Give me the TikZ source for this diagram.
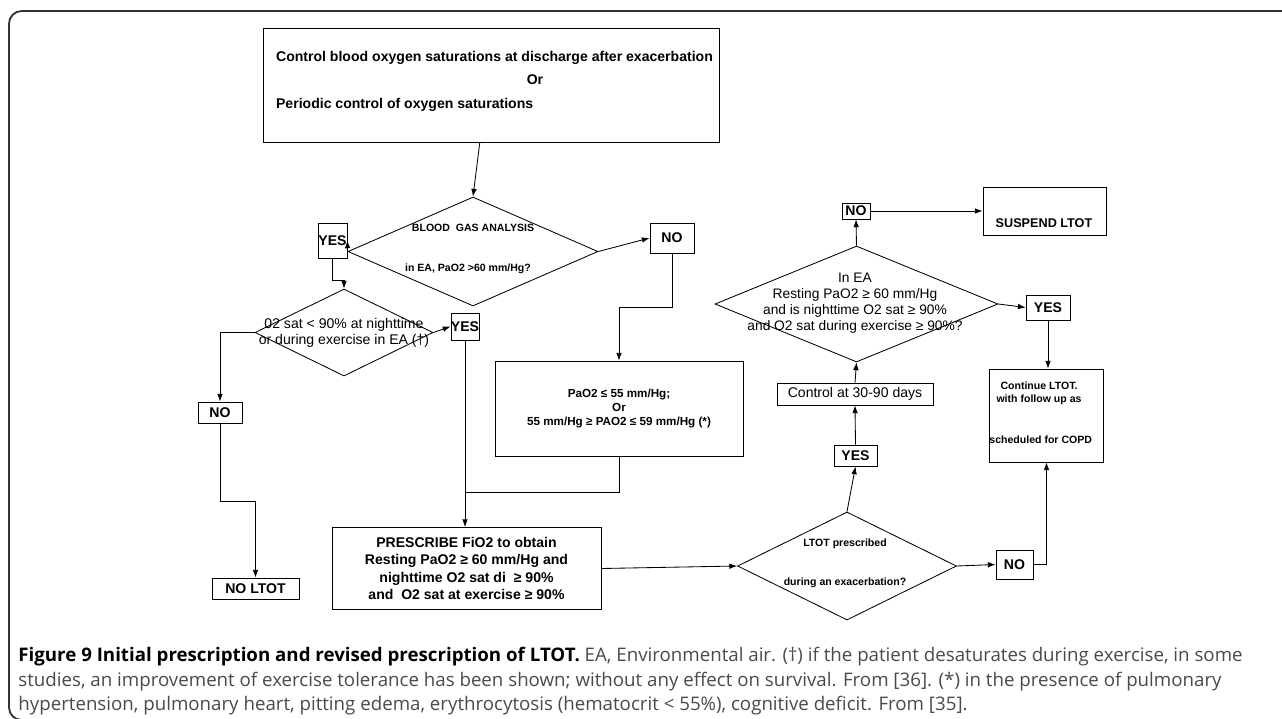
\documentclass[tikz,border=0pt]{standalone}
\usepackage{fontspec}
\setmainfont{Liberation Sans}
\newfontfamily\capfont{Open Sans}
\usetikzlibrary{shapes.geometric,arrows.meta}

\newcommand{\pxu}{0.025cm}
\newcommand{\tinybold}{\bfseries\fontsize{7.5}{9}\selectfont}
\newcommand{\midbold}{\bfseries\fontsize{8.3}{10.3}\selectfont}
\newcommand{\plaintxt}{\fontsize{10}{11.3}\selectfont}
\definecolor{capgray}{HTML}{4A4A4A}

\begin{document}
\begin{tikzpicture}[x=0.025cm,y=-0.025cm,line width=0.6pt,
  box/.style={draw,inner sep=0pt,font=\bfseries\fontsize{10}{12.5}\selectfont},
  dia/.style={draw,diamond,inner sep=0pt},
  arr/.style={-{Latex[length=5.5pt,width=4pt]}},
  captxt/.style={anchor=base west,inner sep=0pt,text=capgray,font=\capfont\fontsize{13.3}{15}\selectfont}]
\useasboundingbox (0,0) rectangle (1282,718);
\draw[line width=1.3pt,black!80,rounded corners=9] (1290,11) -- (9,11) -- (9,720) -- (40,720);

% boxes
\node[box,minimum width=456*\pxu,minimum height=114*\pxu] (top) at (491,85) {};
\node[box,minimum width=29*\pxu,minimum height=35*\pxu] (yes1) at (332.5,240.5) {YES};
\node[box,minimum width=44*\pxu,minimum height=30*\pxu] (no1) at (672,238) {NO};
\node[box,minimum width=28*\pxu,minimum height=27*\pxu] (yes2) at (465,326.5) {YES};
\node[box,minimum width=44*\pxu,minimum height=21*\pxu] (no2) at (220,412.5) {NO};
\node[box,minimum width=87*\pxu,minimum height=21*\pxu] (noltot) at (255.5,588.5) {NO LTOT};
\node[box,minimum width=248*\pxu,minimum height=95*\pxu,align=center,font=\midbold] (pao2) at (619,408.5)
  {PaO2 ≤ 55 mm/Hg;\\Or\\55 mm/Hg ≥ PAO2 ≤ 59 mm/Hg (*)};
\node[box,minimum width=269*\pxu,minimum height=82*\pxu,align=center] (presc) at (466.5,568.5)
  {PRESCRIBE FiO2 to obtain\\Resting PaO2 ≥ 60 mm/Hg and\\nighttime O2 sat di \ ≥ 90\%\\and \ O2 sat at exercise ≥ 90\%};
\node[box,minimum width=43*\pxu,minimum height=21*\pxu] (yes3) at (855.5,455.5) {YES};
\node[box,minimum width=156*\pxu,minimum height=22*\pxu,font=\plaintxt] (ctrl) at (855,394) {Control at 30-90 days};
\node[box,minimum width=28*\pxu,minimum height=16*\pxu] (no3) at (856,211) {NO};
\node[box,minimum width=123*\pxu,minimum height=48*\pxu] (suspend) at (1044.5,211) {};
\node[box,minimum width=44*\pxu,minimum height=25*\pxu] (yes4) at (1048,307.5) {YES};
\node[box,minimum width=114*\pxu,minimum height=93*\pxu] (cont) at (1046.5,415.5) {};
\node[box,minimum width=37*\pxu,minimum height=29*\pxu] (no4) at (1014.5,564.5) {NO};

% diamonds
\node[dia,minimum width=250*\pxu,minimum height=109*\pxu] (bga) at (473,251.5) {};
\node[dia,minimum width=178*\pxu,minimum height=87*\pxu] (sat) at (344,332.5) {};
\node[dia,minimum width=219*\pxu,minimum height=108*\pxu] (ltot) at (847,566) {};
\node[dia,minimum width=283*\pxu,minimum height=116*\pxu] (inea) at (856.5,304) {};

% texts
\node[anchor=west,font=\bfseries\fontsize{10}{12}\selectfont] (t1) at (271,58) {Control blood oxygen saturations at discharge after exacerbation};
\node[font=\bfseries\fontsize{10}{12}\selectfont] (t2) at (535,80) {Or};
\node[anchor=west,font=\bfseries\fontsize{10}{12}\selectfont] (t3) at (271,105) {Periodic control of oxygen saturations};
\node[font=\tinybold] (bga1) at (473,228) {BLOOD \ GAS ANALYSIS};
\node[font=\tinybold] (bga2) at (468,269) {in EA, PaO2 >60 mm/Hg?};
\node[font=\plaintxt,align=center] (sat1) at (344,333) {02 sat < 90\% at nighttime\\or during exercise in EA (†)};
\node[font=\tinybold] (lt1) at (845,544) {LTOT prescribed};
\node[font=\tinybold] (lt2) at (845,583) {during an exacerbation?};
\node[font=\fontsize{9.8}{11.4}\selectfont,align=center] (ea1) at (855,303)
  {In EA\\Resting PaO2 ≥ 60 mm/Hg\\and is nighttime O2 sat ≥ 90\%\\and O2 sat during exercise ≥ 90\%?};
\node[font=\bfseries\fontsize{9}{11}\selectfont] (sus1) at (1044,223) {SUSPEND LTOT};
\node[font=\tinybold,align=center] (co1) at (1039,393) {Continue LTOT.\\with follow up as};
\node[font=\tinybold,anchor=west,inner sep=0pt] (co2) at (989,440) {scheduled for COPD};

% connectors
\draw[arr] ([xshift=-0.28cm]top.south) -- (bga.north);
\draw[arr] (bga.west) -- (yes1.east);
\draw[arr] (yes1.south) -- ++(0,22) -| (sat.north);
\draw[arr] (bga.east) -- (no1.west);
\draw[arr] (no1.south) -- ++(0,54) -| (pao2.north);
\draw[arr] (sat.east) -- (yes2.west);
\draw[arr] (yes2.south) -- (yes2.south |- presc.north);
\draw (pao2.south) -- ++(0,36) coordinate (join) -- (join -| yes2.south);
\draw[arr] (sat.west) -| (no2.north);
\draw[arr] (no2.south) -- ++(0,77.5) -| (noltot.north);
\draw[arr] (presc.east) -- (ltot.west);
\draw[arr] (ltot.north) -- (yes3.south);
\draw[arr] (yes3.north) -- (ctrl.south);
\draw[arr] (ctrl.north) -- (inea.south);
\draw[arr] (inea.north) -- (no3.south);
\draw[arr] (no3.east) -- (suspend.west);
\draw[arr] (inea.east) -- (yes4.west);
\draw[arr] (yes4.south) -- (yes4.south |- cont.north);
\draw[arr] (ltot.east) -- (no4.west);
\draw[arr] (no4.east) -| (cont.south);

% caption
\node[captxt] (cap1) at (18,661) {\textbf{\color{black}Figure 9 Initial prescription and revised prescription of LTOT.} EA, Environmental air. (†) if the patient desaturates during exercise, in some};
\node[captxt] (cap2) at (18,686) {studies, an improvement of exercise tolerance has been shown; without any effect on survival. From [36]. (*) in the presence of pulmonary};
\node[captxt] (cap3) at (18,710) {hypertension, pulmonary heart, pitting edema, erythrocytosis (hematocrit < 55\%), cognitive deficit. From [35].};
\end{tikzpicture}
\end{document}
